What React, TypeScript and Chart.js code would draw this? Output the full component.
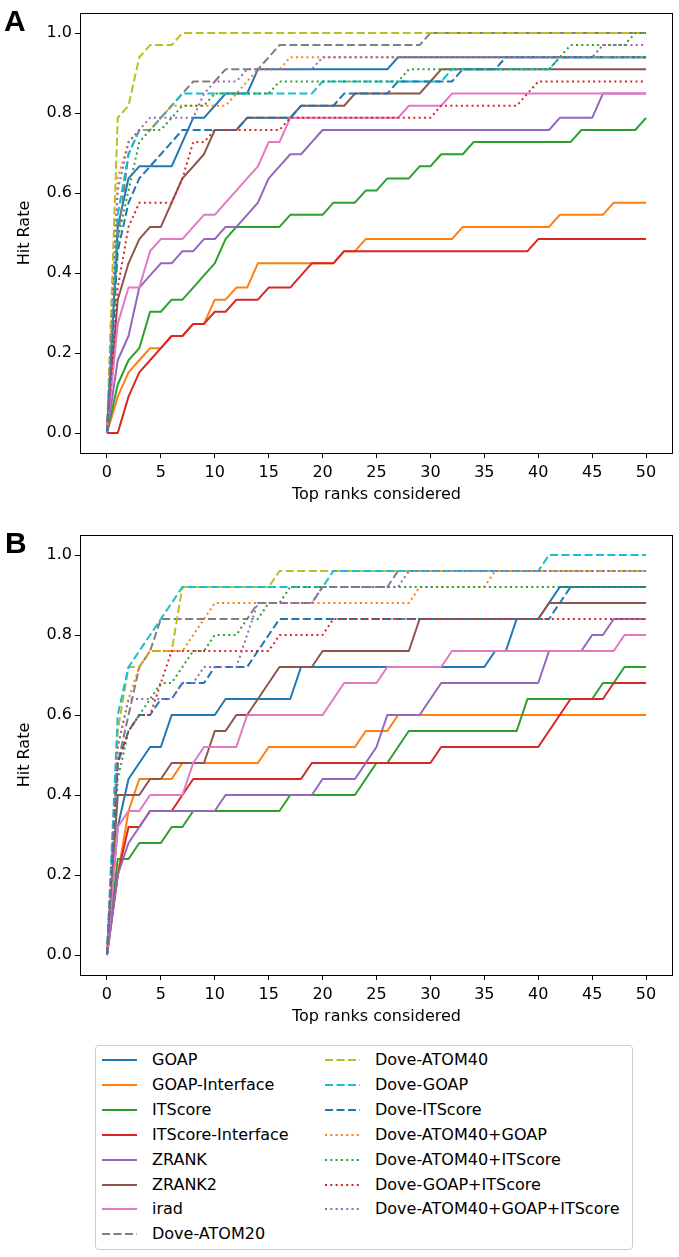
import React, { useEffect, useRef } from "react";
import { Chart, registerables } from "chart.js";

Chart.register(...registerables);

// ---------- categories / ticks ----------
const ranks = [0,1,2,3,4,5,6,7,8,9,10,11,12,13,14,15,16,17,18,19,20,21,22,23,24,25,26,27,28,29,30,31,32,33,34,35,36,37,38,39,40,41,42,43,44,45,46,47,48,49,50];
const xTicks = [0,5,10,15,20,25,30,35,40,45,50];
const xTickLabels = ["0","5","10","15","20","25","30","35","40","45","50"];
const yTicks = [0,0.2,0.4,0.6,0.8,1.0];
const yTickLabels = ["0.0","0.2","0.4","0.6","0.8","1.0"];

const seriesNames = ["GOAP","GOAP-Interface","ITScore","ITScore-Interface","ZRANK","ZRANK2","irad","Dove-ATOM20","Dove-ATOM40","Dove-GOAP","Dove-ITScore","Dove-ATOM40+GOAP","Dove-ATOM40+ITScore","Dove-GOAP+ITScore","Dove-ATOM40+GOAP+ITScore"];

// number of test targets in each panel (hit rate = hits / targets)
const targetsA = 33;
const targetsB = 25;

// ---------- Panel A: hits within top-k ----------
const hitsA_GOAP = [0,17,21,22,22,22,22,24,26,26, 27,28,28,28,30,30,30,30,30,30, 30,30,30,30,30,30,30,31,31,31, 31,31,31,31,31,31,31,31,31,31, 31,31,31,31,31,31,31,31,31,31,31];
const hitsA_GOAPInterface = [0,3,5,6,7,7,8,8,9,9, 11,11,12,12,14,14,14,14,14,14, 14,14,15,15,16,16,16,16,16,16, 16,16,16,17,17,17,17,17,17,17, 17,17,18,18,18,18,18,19,19,19,19];
const hitsA_ITScore = [0,4,6,7,10,10,11,11,12,13, 14,16,17,17,17,17,17,18,18,18, 18,19,19,19,20,20,21,21,21,22, 22,23,23,23,24,24,24,24,24,24, 24,24,24,24,25,25,25,25,25,25,26];
const hitsA_ITScoreInterface = [0,0,3,5,6,7,8,8,9,9, 10,10,11,11,11,12,12,12,13,14, 14,14,15,15,15,15,15,15,15,15, 15,15,15,15,15,15,15,15,15,15, 16,16,16,16,16,16,16,16,16,16,16];
const hitsA_ZRANK = [0,6,8,12,13,14,14,15,15,16, 16,17,17,18,19,21,22,23,23,24, 25,25,25,25,25,25,25,25,25,25, 25,25,25,25,25,25,25,25,25,25, 25,25,26,26,26,26,28,28,28,28,28];
const hitsA_ZRANK2 = [0,11,14,16,17,17,19,21,22,23, 25,25,25,26,26,26,26,26,27,27, 27,27,27,28,28,28,28,28,28,28, 29,30,30,30,30,30,30,30,30,30, 30,30,30,30,30,30,30,30,30,30,30];
const hitsA_irad = [0,9,12,12,15,16,16,16,17,18, 18,19,20,21,22,24,24,26,26,26, 26,26,26,26,26,26,26,26,27,27, 27,27,28,28,28,28,28,28,28,28, 28,28,28,28,28,28,28,28,28,28,28];
const hitsA_DoveATOM20 = [0,16,23,25,25,26,27,28,29,29, 29,30,30,30,30,31,32,32,32,32, 32,32,32,32,32,32,32,32,32,32, 33,33,33,33,33,33,33,33,33,33, 33,33,33,33,33,33,33,33,33,33,33];
const hitsA_DoveATOM40 = [0,26,27,31,32,32,32,33,33,33, 33,33,33,33,33,33,33,33,33,33, 33,33,33,33,33,33,33,33,33,33, 33,33,33,33,33,33,33,33,33,33, 33,33,33,33,33,33,33,33,33,33,33];
const hitsA_DoveGOAP = [0,18,23,25,25,26,27,28,28,28, 28,28,28,28,28,28,28,28,28,28, 29,29,29,29,29,29,29,29,29,29, 29,29,30,30,30,30,30,30,30,30, 30,30,31,31,31,31,31,31,31,31,31];
const hitsA_DoveITScore = [0,15,19,21,22,23,24,25,25,25, 25,25,25,26,26,26,26,26,27,27, 27,27,28,28,28,28,28,29,29,29, 29,29,29,30,30,30,30,31,31,31, 31,31,31,31,31,31,31,31,31,31,31];
const hitsA_DoveATOM40GOAP = [0,21,24,25,25,26,27,27,27,27, 27,27,28,29,30,30,30,31,31,31, 31,31,31,31,31,31,31,31,31,31, 31,31,31,31,31,31,31,31,31,31, 31,31,31,31,31,31,31,31,31,31,31];
const hitsA_DoveATOM40ITScore = [0,16,20,24,25,25,26,27,27,27, 28,28,28,28,28,28,29,29,29,29, 29,29,29,29,29,29,29,29,30,30, 30,30,30,30,30,30,30,30,30,30, 30,30,31,32,32,32,32,32,32,33,33];
const hitsA_DoveGOAPITScore = [0,12,17,19,19,19,19,21,24,24, 25,25,25,25,25,25,25,26,26,26, 26,26,26,26,26,26,26,26,26,26, 26,27,27,27,27,27,27,27,27,28, 29,29,29,29,29,29,29,29,29,29,29];
const hitsA_DoveAll = [0,20,24,25,26,26,26,26,26,28, 29,29,29,30,30,30,30,30,30,30, 31,31,31,31,31,31,31,31,31,31, 31,31,31,31,31,31,31,31,31,31, 31,31,31,31,31,31,32,32,32,32,32];

// ---------- Panel B: hits within top-k ----------
const hitsB_GOAP = [0,8,11,12,13,13,15,15,15,15, 15,16,16,16,16,16,16,16,18,18, 18,18,18,18,18,18,18,18,18,18, 18,18,18,18,18,18,19,19,21,21, 21,22,23,23,23,23,23,23,23,23,23];
const hitsB_GOAPInterface = [0,5,9,11,11,11,11,12,12,12, 12,12,12,12,12,13,13,13,13,13, 13,13,13,13,14,14,14,15,15,15, 15,15,15,15,15,15,15,15,15,15, 15,15,15,15,15,15,15,15,15,15,15];
const hitsB_ITScore = [0,6,6,7,7,7,8,8,9,9, 9,9,9,9,9,9,9,10,10,10, 10,10,10,10,11,12,12,13,14,14, 14,14,14,14,14,14,14,14,14,16, 16,16,16,16,16,16,17,17,18,18,18];
const hitsB_ITScoreInterface = [0,5,8,8,9,9,9,10,11,11, 11,11,11,11,11,11,11,11,11,12, 12,12,12,12,12,12,12,12,12,12, 12,13,13,13,13,13,13,13,13,13, 13,14,15,16,16,16,16,17,17,17,17];
const hitsB_ZRANK = [0,5,7,8,9,9,9,9,9,9, 9,10,10,10,10,10,10,10,10,10, 11,11,11,11,12,13,15,15,15,15, 16,17,17,17,17,17,17,17,17,17, 17,19,19,19,19,20,20,21,21,21,21];
const hitsB_ZRANK2 = [0,10,10,10,11,11,12,12,12,12, 14,14,15,15,16,17,18,18,18,18, 19,19,19,19,19,19,19,19,19,21, 21,21,21,21,21,21,21,21,21,21, 21,22,22,22,22,22,22,22,22,22,22];
const hitsB_irad = [0,8,9,9,10,10,10,10,12,13, 13,13,13,15,15,15,15,15,15,15, 15,16,17,17,17,17,18,18,18,18, 18,18,19,19,19,19,19,19,19,19, 19,19,19,19,19,19,19,19,20,20,20];
const hitsB_DoveATOM20 = [0,12,15,18,19,21,21,21,21,21, 21,21,21,21,22,22,22,22,22,22, 23,23,23,23,23,23,23,24,24,24, 24,24,24,24,24,24,24,24,24,24, 24,24,24,24,24,24,24,24,24,24,24];
const hitsB_DoveATOM40 = [0,14,18,18,19,19,19,23,23,23, 23,23,23,23,23,23,24,24,24,24, 24,24,24,24,24,24,24,24,24,24, 24,24,24,24,24,24,24,24,24,24, 24,24,24,24,24,24,24,24,24,24,24];
const hitsB_DoveGOAP = [0,15,18,19,20,21,22,23,23,23, 23,23,23,23,23,23,23,23,23,23, 23,24,24,24,24,24,24,24,24,24, 24,24,24,24,24,24,24,24,24,24, 24,25,25,25,25,25,25,25,25,25,25];
const hitsB_DoveITScore = [0,12,14,15,15,16,16,17,17,17, 18,18,18,18,19,20,21,21,21,21, 21,21,21,21,21,21,21,21,21,21, 21,21,21,21,21,21,21,21,21,21, 21,21,22,23,23,23,23,23,23,23,23];
const hitsB_DoveATOM40GOAP = [0,13,16,18,19,19,19,19,20,21, 22,22,22,22,22,22,22,22,22,22, 22,22,22,22,22,22,22,22,22,23, 23,23,23,23,23,23,24,24,24,24, 24,24,24,24,24,24,24,24,24,24,24];
const hitsB_DoveATOM40ITScore = [0,11,14,15,16,17,17,18,19,19, 20,20,20,21,21,22,22,23,23,23, 23,23,23,23,23,23,23,23,23,23, 23,23,23,23,23,23,23,23,23,23, 23,23,23,23,23,23,23,23,23,23,23];
const hitsB_DoveGOAPITScore = [0,12,14,15,15,17,19,19,19,19, 19,19,19,19,19,19,20,20,20,20, 20,21,21,21,21,21,21,21,21,21, 21,21,21,21,21,21,21,21,21,21, 21,21,21,21,21,21,21,21,21,21,21];
const hitsB_DoveAll = [0,13,16,16,16,16,16,17,17,18, 18,18,18,20,22,22,22,22,22,22, 23,23,23,23,23,23,23,23,24,24, 24,24,24,24,24,24,24,24,24,24, 24,24,24,24,24,24,24,24,24,24,24];

const panelA = [hitsA_GOAP, hitsA_GOAPInterface, hitsA_ITScore, hitsA_ITScoreInterface, hitsA_ZRANK, hitsA_ZRANK2, hitsA_irad, hitsA_DoveATOM20, hitsA_DoveATOM40, hitsA_DoveGOAP, hitsA_DoveITScore, hitsA_DoveATOM40GOAP, hitsA_DoveATOM40ITScore, hitsA_DoveGOAPITScore, hitsA_DoveAll];
const panelB = [hitsB_GOAP, hitsB_GOAPInterface, hitsB_ITScore, hitsB_ITScoreInterface, hitsB_ZRANK, hitsB_ZRANK2, hitsB_irad, hitsB_DoveATOM20, hitsB_DoveATOM40, hitsB_DoveGOAP, hitsB_DoveITScore, hitsB_DoveATOM40GOAP, hitsB_DoveATOM40ITScore, hitsB_DoveGOAPITScore, hitsB_DoveAll];

// ---------- styles ----------
const seriesColors = ["#1f77b4","#ff7f0e","#2ca02c","#d62728","#9467bd","#8c564b","#e377c2","#7f7f7f","#bcbd22","#17becf","#1f77b4","#ff7f0e","#2ca02c","#d62728","#9467bd"];
const seriesStyles = ["solid","solid","solid","solid","solid","solid","solid","dashed","dashed","dashed","dashed","dotted","dotted","dotted","dotted"];
const DASHED = [8, 3.5];
const DOTTED = [2, 3.3];
const FONT = "'DejaVu Sans', 'Noto Sans', sans-serif";
const W = 679;
const PANEL_H = 510;

function dashFor(s: string) {
  return s === "dashed" ? DASHED : s === "dotted" ? DOTTED : [];
}

const framePlugin = {
  id: "frame",
  afterDatasetsDraw(chart: any) {
    const { ctx, chartArea } = chart;
    const { left, top, right, bottom } = chartArea;
    ctx.save();
    ctx.strokeStyle = "#000";
    ctx.lineWidth = 1;
    ctx.setLineDash([]);
    ctx.strokeRect(Math.round(left) + 0.5, Math.round(top) + 0.5, Math.round(right - left) - 1, Math.round(bottom - top));
    ctx.restore();
  },
};

function Panel({ hits, targets }: { hits: number[][]; targets: number }) {
  const ref = useRef<HTMLCanvasElement | null>(null);
  useEffect(() => {
    if (!ref.current) return;
    const datasets = hits.map((h, i) => ({
      label: seriesNames[i],
      data: h.map((c, j) => ({ x: ranks[j], y: c / targets })),
      borderColor: seriesColors[i],
      backgroundColor: seriesColors[i],
      borderWidth: 2,
      borderDash: dashFor(seriesStyles[i]),
      borderJoinStyle: "round",
      pointRadius: 0,
      pointHoverRadius: 0,
      tension: 0,
      fill: false,
      order: -i,
    }));
    const font = { family: FONT, size: 16 };
    const chart = new Chart(ref.current, {
      type: "line",
      data: { datasets } as any,
      options: {
        animation: false,
        responsive: false,
        maintainAspectRatio: false,
        events: [],
        layout: { padding: { top: 13, right: 6, left: 0, bottom: 0 } },
        plugins: { legend: { display: false }, tooltip: { enabled: false } },
        scales: {
          x: {
            type: "linear",
            min: -2.5,
            max: 52.5,
            afterBuildTicks: (s: any) => { s.ticks = xTicks.map((v) => ({ value: v })); },
            afterFit: (s: any) => { s.height = 57; },
            ticks: {
              autoSkip: false,
              maxRotation: 0,
              padding: 5,
              color: "#000",
              font,
              callback: (v: any) => { const k = xTicks.indexOf(v); return k >= 0 ? xTickLabels[k] : ""; },
            },
            grid: { drawOnChartArea: false, drawTicks: true, tickLength: 5, color: "#000", lineWidth: 1 },
            border: { display: false },
            title: { display: true, text: "Top ranks considered", color: "#000", font, padding: { top: 0, bottom: 5.5 } },
          },
          y: {
            type: "linear",
            min: -0.05,
            max: 1.05,
            afterBuildTicks: (s: any) => { s.ticks = yTicks.map((v) => ({ value: v })); },
            afterFit: (s: any) => { s.width = 80; },
            ticks: {
              autoSkip: false,
              padding: 3,
              color: "#000",
              font,
              callback: (v: any) => { const k = yTicks.indexOf(v); return k >= 0 ? yTickLabels[k] : ""; },
            },
            grid: { drawOnChartArea: false, drawTicks: true, tickLength: 5, color: "#000", lineWidth: 1 },
            border: { display: false },
            title: { display: true, text: "Hit Rate", color: "#000", font, padding: { top: 15.4, bottom: 0 } },
          },
        },
      } as any,
      plugins: [framePlugin],
    });
    return () => chart.destroy();
  }, [hits, targets]);
  return <canvas ref={ref} width={W} height={PANEL_H} style={{ display: "block", width: W, height: PANEL_H }} />;
}

function Handle({ i }: { i: number }) {
  const s = seriesStyles[i];
  const dash = s === "dashed" ? DASHED.join(" ") : s === "dotted" ? DOTTED.join(" ") : undefined;
  return (
    <svg width={35} height={6} style={{ display: "block", flex: "0 0 auto" }}>
      <line x1={0} y1={3} x2={35} y2={3} stroke={seriesColors[i]} strokeWidth={2} strokeDasharray={dash} />
    </svg>
  );
}

function Legend() {
  const rowH = 24.9;
  const items = seriesNames.map((name, i) => {
    const col = i < 8 ? 0 : 1;
    const row = i < 8 ? i : i - 8;
    const left = col === 0 ? 6 : 229;
    return (
      <div
        key={name}
        style={{
          position: "absolute",
          left,
          top: 14 + row * rowH - 12,
          height: 24,
          display: "flex",
          alignItems: "center",
          whiteSpace: "nowrap",
        }}
      >
        <Handle i={i} />
        <span style={{ marginLeft: 15, font: `16px ${FONT}`, lineHeight: "24px", color: "#000" }}>{name}</span>
      </div>
    );
  });
  return (
    <div
      style={{
        position: "absolute",
        left: 95,
        top: 1045,
        width: 538,
        height: 205,
        boxSizing: "border-box",
        border: "1px solid #cccccc",
        borderRadius: 4,
        background: "#fff",
      }}
    >
      {items}
    </div>
  );
}

export default function App() {
  const label = { position: "absolute" as const, font: `bold 30px 'Liberation Sans', Arial, sans-serif`, lineHeight: "30px", color: "#000" };
  return (
    <div style={{ position: "absolute", left: 0, top: 0, width: W, height: 1257, background: "#fff", overflow: "hidden" }}>
      <div style={{ position: "absolute", left: 0, top: 0 }}>
        <Panel hits={panelA} targets={targetsA} />
      </div>
      <div style={{ position: "absolute", left: 0, top: 522 }}>
        <Panel hits={panelB} targets={targetsB} />
      </div>
      <div style={{ ...label, left: 4, top: 6 }}>A</div>
      <div style={{ ...label, left: 5, top: 528 }}>B</div>
      <Legend />
    </div>
  );
}
